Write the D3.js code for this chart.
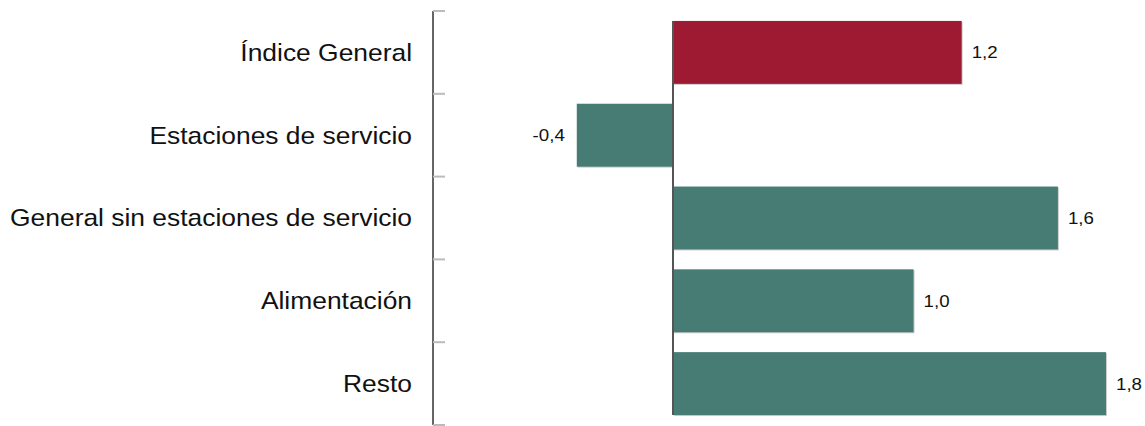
<!DOCTYPE html>
<html>
<head>
<meta charset="utf-8">
<script src="https://cdn.jsdelivr.net/npm/d3@7"></script>
<style>
  body { margin: 0; background: #fff; }
  text { font-family: "Liberation Sans", Arial, sans-serif; }
</style>
</head>
<body>
<svg id="chart" width="1145" height="426"></svg>
<script>
// datos
const categorias = ['Índice General', 'Estaciones de servicio', 'General sin estaciones de servicio', 'Alimentación', 'Resto']
const valores = [1.2, -0.4, 1.6, 1.0, 1.8]
const colores = ['#9e1a32', '#467c74', '#467c74', '#467c74', '#467c74']

const svg = d3.select('#chart')
const yTop = 11, yBottom = 425
const axisX = 433
const stretch = 1.1 // el original esta algo estirado en horizontal

const y = d3.scaleBand().domain(categorias).range([yTop, yBottom]).paddingInner(0.24).paddingOuter(0.12)
const x = d3.scaleLinear().domain([0, 1.8]).range([673, 1106])

// eje vertical con marcas
svg.append('line')
  .attr('x1', axisX).attr('x2', axisX)
  .attr('y1', yTop).attr('y2', yBottom)
  .attr('stroke', '#666').attr('stroke-width', 2)

const step = (yBottom - yTop) / categorias.length
d3.range(categorias.length + 1).forEach(i => {
  svg.append('line')
    .attr('x1', axisX).attr('x2', axisX + 12)
    .attr('y1', yTop + i * step).attr('y2', yTop + i * step)
    .attr('stroke', '#bbb').attr('stroke-width', 2)
})

svg.selectAll('.cat').data(categorias).enter().append('text')
  .attr('class', 'cat')
  .attr('transform', d => `translate(412, ${y(d) + y.bandwidth() / 2}) scale(${stretch}, 1)`)
  .attr('dy', '0.35em')
  .attr('text-anchor', 'end')
  .attr('font-size', 24)
  .attr('fill', '#111')
  .text(d => d)

// barras
const bars = categorias.map((c, i) => ({cat: c, val: valores[i], col: colores[i]}))

svg.selectAll('.sombra').data(bars).enter().append('rect')
  .attr('x', d => Math.min(x(0), x(d.val)) + 1)
  .attr('y', d => y(d.cat) + 1)
  .attr('width', d => Math.abs(x(d.val) - x(0)))
  .attr('height', y.bandwidth())
  .attr('fill', '#ccc')

svg.selectAll('.bar').data(bars).enter().append('rect')
  .attr('class', 'bar')
  .attr('x', d => Math.min(x(0), x(d.val)))
  .attr('y', d => y(d.cat))
  .attr('width', d => Math.abs(x(d.val) - x(0)))
  .attr('height', y.bandwidth())
  .attr('fill', d => d.col)

// linea del cero
svg.append('line')
  .attr('x1', x(0)).attr('x2', x(0))
  .attr('y1', y(categorias[0])).attr('y2', y(categorias[4]) + y.bandwidth())
  .attr('stroke', '#555').attr('stroke-width', 2)

svg.selectAll('.val').data(bars).enter().append('text')
  .attr('class', 'val')
  .attr('transform', d => {
    const tx = d.val < 0 ? x(d.val) - 12 : x(d.val) + 10
    return `translate(${tx}, ${y(d.cat) + y.bandwidth() / 2}) scale(${stretch}, 1)`
  })
  .attr('dy', '0.35em')
  .attr('text-anchor', d => d.val < 0 ? 'end' : 'start')
  .attr('font-size', 17)
  .attr('fill', '#111')
  .text(d => d3.format('.1f')(d.val).replace('.', ',').replace('−', '-'))
</script>
</body>
</html>
